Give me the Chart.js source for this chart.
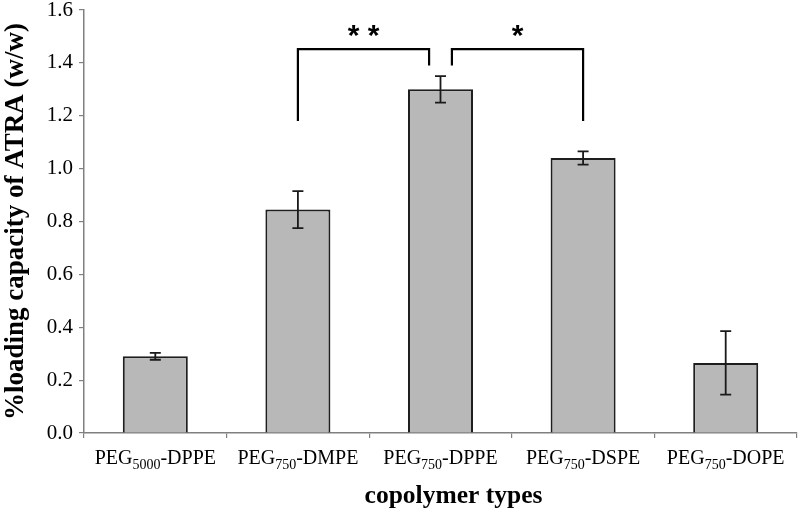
<!DOCTYPE html>
<html>
<head>
<meta charset="utf-8">
<script src="https://cdn.jsdelivr.net/npm/chart.js@4"></script>
<style>
  html, body { margin: 0; padding: 0; background: #fff; }
  #wrap { width: 799px; height: 511px; }
</style>
</head>
<body>
<div id="wrap"><canvas id="loadingChart"></canvas></div>
<script>
// copolymer names are PEG<size>-<lipid>, size drawn as a subscript
const pegSizes = ["5000", "750", "750", "750", "750"];
const lipids = ["DPPE", "DMPE", "DPPE", "DSPE", "DOPE"];
const loading = [0.29, 0.845, 1.30, 1.04, 0.265];
const loadingSd = [0.013, 0.07, 0.05, 0.025, 0.12];

const categories = pegSizes.map((s, i) => "PEG" + s + "-" + lipids[i]);

// significance brackets: each end is [category position, value where the leg stops]
const comparisons = [
  { top: 1.452, ends: [[1, 1.18], [1.92, 1.39]], mark: "* *" },
  { top: 1.452, ends: [[2.08, 1.39], [3, 1.18]], mark: "*" },
];

const serif = "'Liberation Serif', 'Times New Roman', serif";

const errorBars = {
  id: "errorBars",
  afterDatasetsDraw(chart) {
    const ctx = chart.ctx;
    const y = chart.scales.y;
    const meta = chart.getDatasetMeta(0);
    ctx.save();
    ctx.strokeStyle = "#1a1a1a";
    ctx.lineWidth = 1.8;
    meta.data.forEach((bar, i) => {
      const top = y.getPixelForValue(loading[i] + loadingSd[i]);
      const bot = y.getPixelForValue(loading[i] - loadingSd[i]);
      const cap = 5.5;
      ctx.beginPath();
      ctx.moveTo(bar.x, top);
      ctx.lineTo(bar.x, bot);
      ctx.moveTo(bar.x - cap, top);
      ctx.lineTo(bar.x + cap, top);
      ctx.moveTo(bar.x - cap, bot);
      ctx.lineTo(bar.x + cap, bot);
      ctx.stroke();
    });
    ctx.restore();
  },
};

const extras = {
  id: "extras",
  afterDraw(chart) {
    const ctx = chart.ctx;
    const x = chart.scales.x;
    const y = chart.scales.y;
    ctx.save();

    // brackets
    ctx.strokeStyle = "#000";
    ctx.lineWidth = 2.2;
    ctx.fillStyle = "#000";
    comparisons.forEach((c) => {
      const yTop = y.getPixelForValue(c.top);
      const x0 = x.getPixelForValue(c.ends[0][0]);
      const x1 = x.getPixelForValue(c.ends[1][0]);
      ctx.beginPath();
      ctx.moveTo(x0, y.getPixelForValue(c.ends[0][1]));
      ctx.lineTo(x0, yTop);
      ctx.lineTo(x1, yTop);
      ctx.lineTo(x1, y.getPixelForValue(c.ends[1][1]));
      ctx.stroke();
      ctx.font = "bold 30px 'Liberation Sans', Arial, sans-serif";
      ctx.textAlign = "center";
      ctx.textBaseline = "alphabetic";
      ctx.fillText(c.mark, (x0 + x1) / 2, yTop - 4);
    });

    // category labels with subscripts
    const mainFont = "20px " + serif;
    const subFont = "14px " + serif;
    const base = x.top + 31;
    ctx.textAlign = "left";
    categories.forEach((_, i) => {
      const parts = [
        ["PEG", mainFont, 0],
        [pegSizes[i], subFont, 5],
        ["-" + lipids[i], mainFont, 0],
      ];
      let w = 0;
      parts.forEach((p) => {
        ctx.font = p[1];
        w += ctx.measureText(p[0]).width;
      });
      let px = x.getPixelForValue(i) - w / 2;
      parts.forEach((p) => {
        ctx.font = p[1];
        ctx.fillText(p[0], px, base + p[2]);
        px += ctx.measureText(p[0]).width;
      });
    });

    // axis title
    ctx.font = "bold 25.5px " + serif;
    ctx.textAlign = "center";
    ctx.fillText("copolymer types", (x.left + x.right) / 2 + 13, x.top + 70);
    ctx.restore();
  },
};

new Chart(document.getElementById("loadingChart"), {
  type: "bar",
  data: {
    labels: categories,
    datasets: [
      {
        data: loading,
        backgroundColor: "#b8b8b8",
        borderColor: "#1e1e1e",
        borderWidth: 2,
        barPercentage: 0.456,
        categoryPercentage: 1,
      },
    ],
  },
  options: {
    responsive: true,
    maintainAspectRatio: false,
    animation: false,
    layout: { padding: { top: 10, right: 2, left: 0, bottom: 0 } },
    plugins: {
      legend: { display: false },
      tooltip: { enabled: false },
    },
    scales: {
      x: {
        grid: {
          offset: true,
          drawOnChartArea: false,
          tickLength: 5,
          color: "#808080",
          lineWidth: 1.2,
        },
        border: { color: "#808080", width: 1.5 },
        ticks: { callback: () => "" },
        afterFit(scale) {
          scale.height = 78;
          scale.paddingLeft = 0;
          scale.paddingRight = 0;
        },
      },
      y: {
        min: 0,
        max: 1.6,
        ticks: {
          stepSize: 0.2,
          padding: 6,
          color: "#000",
          font: { family: serif, size: 21 },
          callback: (v) => v.toFixed(1),
        },
        grid: {
          drawOnChartArea: false,
          tickLength: 5,
          color: "#808080",
          lineWidth: 1.2,
        },
        border: { color: "#808080", width: 1.5 },
        title: {
          display: true,
          text: "%loading capacity of ATRA (w/w)",
          color: "#000",
          font: { family: serif, size: 27, weight: "bold" },
          padding: { top: 0, bottom: 4 },
        },
        afterFit(scale) {
          scale.width = 84;
          scale.paddingTop = 0;
          scale.paddingBottom = 0;
        },
      },
    },
  },
  plugins: [errorBars, extras],
});
</script>
</body>
</html>
